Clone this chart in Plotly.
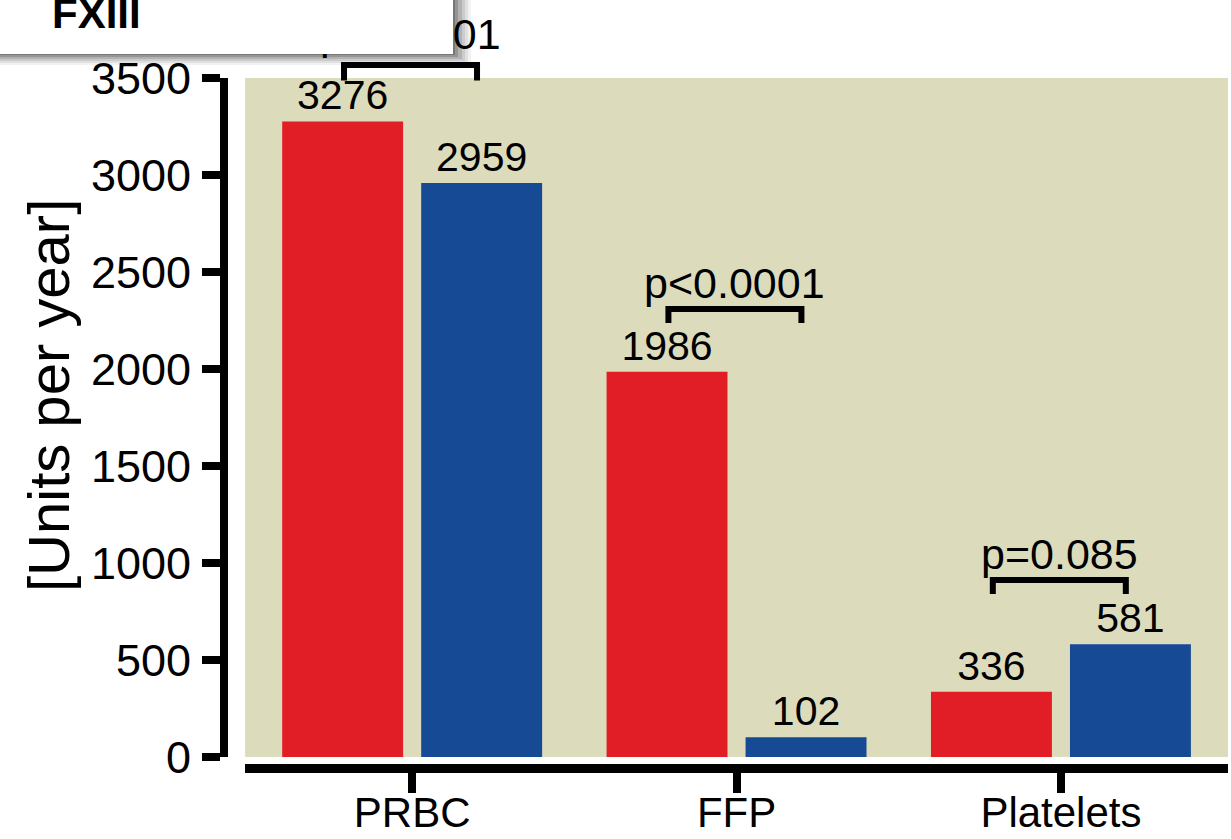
import plotly.graph_objects as go

# ---- data -------------------------------------------------------------
categories = ["PRBC", "FFP", "Platelets"]
period_1_units = [3276, 1986, 336]
period_2_units = [2959, 102, 581]
p_labels = ["p<0.0001", "p<0.0001", "p=0.085"]
y_tick_values = [0, 500, 1000, 1500, 2000, 2500, 3000, 3500]

# ---- style / layout ---------------------------------------------------
FONT = "Liberation Sans, Arial, sans-serif"
RED = "#E11E25"
BLUE = "#164A94"
PANEL = "#DCDCBD"

W, H = 1231, 839
M_L, M_R, M_T, M_B = 224, 3, 78, 71
Y_RANGE = [0, 3500]
Y_DOMAIN = [0.016, 1.0]
X_DOMAIN = [0.021, 1.0]

# bracket height (data units) and text lift (px) for each comparison
bracket_top = [3567, 2309, 912]
bracket_leg = [80, 72, 72]
label_lift = [31, 26, 26]
BR_LEFT, BR_RIGHT = -0.21, 0.2

x_pos = list(range(len(categories)))


def paper_y(v):
    """Map a y data value to paper coordinates (allows values above the range)."""
    frac = (v - Y_RANGE[0]) / (Y_RANGE[1] - Y_RANGE[0])
    return Y_DOMAIN[0] + (Y_DOMAIN[1] - Y_DOMAIN[0]) * frac


fig = go.Figure()

for name, vals, color in [("Period 1", period_1_units, RED),
                          ("Period 2", period_2_units, BLUE)]:
    fig.add_trace(go.Bar(
        x=x_pos, y=vals, name=name,
        marker=dict(color=color, line=dict(width=0)),
        text=vals, texttemplate="%{y}", textposition="outside",
        textfont=dict(family=FONT, size=41, color="black"),
        constraintext="none", cliponaxis=False,
    ))

shapes = []
annotations = []

# significance brackets and p-value labels
for i, lab in enumerate(p_labels):
    x0 = x_pos[i] + BR_LEFT
    x1 = x_pos[i] + BR_RIGHT
    yt = paper_y(bracket_top[i])
    yb = paper_y(bracket_top[i] - bracket_leg[i])
    shapes.append(dict(
        type="path", xref="x", yref="paper",
        path=f"M {x0},{yb} L {x0},{yt} L {x1},{yt} L {x1},{yb}",
        line=dict(color="black", width=6),
    ))
    annotations.append(dict(
        x=(x0 + x1) / 2, y=yt, xref="x", yref="paper",
        text=lab, showarrow=False, yanchor="middle", yshift=label_lift[i],
        font=dict(family=FONT, size=43, color="black"),
    ))


def px_x(px):
    return (px - M_L) / (W - M_L - M_R)


def px_y(py):
    return (H - M_B - py) / (H - M_T - M_B)


# "FXIII" inset panel with a soft drop shadow, drawn on top of the labels
for k, alpha in enumerate([0.05, 0.07, 0.09, 0.12, 0.16, 0.2]):
    off = 14 - 2.5 * k
    annotations.append(dict(
        x=px_x(-20 + off * 0.3), y=px_y(54 + off * 0.8), xref="paper", yref="paper",
        xanchor="left", yanchor="bottom", text=" ", showarrow=False,
        width=473 + off, height=110, bgcolor=f"rgba(0,0,0,{alpha})",
        borderpad=0, borderwidth=0,
    ))
annotations.append(dict(
    x=px_x(-20), y=px_y(54), xref="paper", yref="paper",
    xanchor="left", yanchor="bottom", text=" ", showarrow=False,
    width=473, height=110, bgcolor="white", borderpad=0, borderwidth=0,
))
annotations.append(dict(
    x=px_x(50), y=px_y(13), xref="paper", yref="paper",
    xanchor="left", yanchor="middle", text="<b>FXIII</b>", showarrow=False,
    font=dict(family=FONT, size=42, color="black"),
))

# y-axis title
annotations.append(dict(
    x=px_x(48), y=px_y(396), xref="paper", yref="paper",
    text="[Units per year]", textangle=-90, showarrow=False,
    xanchor="center", yanchor="middle",
    font=dict(family=FONT, size=58, color="black"),
))

fig.update_layout(
    width=W, height=H,
    margin=dict(l=M_L, r=M_R, t=M_T, b=M_B, pad=0, autoexpand=False),
    paper_bgcolor="white",
    plot_bgcolor=PANEL,
    barmode="group", bargap=0.143, bargroupgap=0.13,
    showlegend=False,
    font=dict(family=FONT, color="black"),
    shapes=shapes,
    annotations=annotations,
    xaxis=dict(
        domain=X_DOMAIN, anchor="free", position=0, automargin=False,
        range=[-0.515, 2.515],
        tickmode="array", tickvals=x_pos, ticktext=categories,
        showline=True, linecolor="black", linewidth=9,
        ticks="outside", ticklen=20, tickwidth=8, tickcolor="black",
        tickfont=dict(family=FONT, size=42, color="black"),
        ticklabelstandoff=-16,
        showgrid=False, zeroline=False, fixedrange=True,
    ),
    yaxis=dict(
        domain=Y_DOMAIN, anchor="free", position=0, automargin=False,
        range=Y_RANGE,
        tickmode="array", tickvals=y_tick_values,
        showline=True, linecolor="black", linewidth=8,
        ticks="outside", ticklen=18, tickwidth=8, tickcolor="black",
        tickfont=dict(family=FONT, size=45, color="black"),
        ticklabelstandoff=2,
        showgrid=False, zeroline=False, fixedrange=True,
    ),
)

fig.write_html("out.html")
